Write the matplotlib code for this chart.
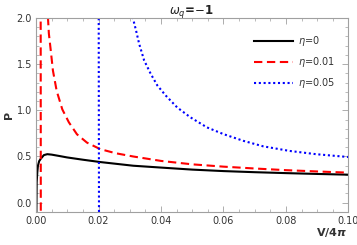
import matplotlib.pyplot as plt
from matplotlib.ticker import MultipleLocator

# values (V/4pi, P)
v_eta0 = [0.0001, 0.0002, 0.0004, 0.0006, 0.001, 0.0015, 0.0025, 0.0036, 0.005, 0.0075,
          0.0099, 0.015, 0.0205, 0.0311, 0.04, 0.05, 0.06, 0.07, 0.08, 0.09, 0.100]
p_eta0 = [-0.12, 0.22, 0.33, 0.40, 0.45, 0.475, 0.515, 0.525, 0.52, 0.505,
          0.49, 0.465, 0.44, 0.40, 0.38, 0.358, 0.342, 0.33, 0.32, 0.311, 0.303]

v_eta001_a = [0.00148, 0.00152]
p_eta001_a = [2.1, -0.2]
v_eta001_b = [0.0038, 0.0041, 0.0047, 0.0054, 0.0066, 0.0084, 0.0105, 0.0131, 0.0163,
              0.0205, 0.0255, 0.0311, 0.04, 0.05, 0.06, 0.07, 0.08, 0.09, 0.100]
p_eta001_b = [2.01, 1.83, 1.65, 1.43, 1.21, 1.01, 0.87, 0.74, 0.65,
              0.58, 0.535, 0.50, 0.452, 0.415, 0.39, 0.37, 0.352, 0.338, 0.325]

v_eta005_a = [0.02005, 0.02015]
p_eta005_a = [2.1, -0.2]
v_eta005_b = [0.0309, 0.0320, 0.0330, 0.0346, 0.0367, 0.0388, 0.0415, 0.0452, 0.0494,
              0.0547, 0.060, 0.0663, 0.0727, 0.0812, 0.0896, 0.100]
p_eta005_b = [2.01, 1.865, 1.72, 1.54, 1.395, 1.27, 1.16, 1.03, 0.924,
              0.815, 0.742, 0.67, 0.61, 0.56, 0.525, 0.494]

fig = plt.figure(figsize=(3.57, 2.45), dpi=100)
ax = fig.add_axes([0.101, 0.135, 0.875, 0.792])

lw = 1.5
ax.plot(v_eta0, p_eta0, color="black", lw=lw, label=r"$\eta$=0")
ax.plot(v_eta001_a, p_eta001_a, color="red", lw=lw, dashes=(4, 2.2))
ax.plot(v_eta001_b, p_eta001_b, color="red", lw=lw, dashes=(4, 2.2), label=r"$\eta$=0.01")
ax.plot(v_eta005_a, p_eta005_a, color="blue", lw=lw, dashes=(1, 1.3))
ax.plot(v_eta005_b, p_eta005_b, color="blue", lw=lw, dashes=(1, 1.3), label=r"$\eta$=0.05")

ax.set_xlim(0, 0.10)
ax.set_ylim(-0.1, 2.0)

ax.xaxis.set_major_locator(MultipleLocator(0.02))
ax.xaxis.set_minor_locator(MultipleLocator(0.005))
ax.yaxis.set_major_locator(MultipleLocator(0.5))
ax.yaxis.set_minor_locator(MultipleLocator(0.1))
ax.xaxis.set_major_formatter(plt.FuncFormatter(lambda x, p: "%.2f" % x))
ax.yaxis.set_major_formatter(plt.FuncFormatter(lambda y, p: "%.1f" % y))

for s in ax.spines.values():
    s.set_color("#a0a0a0")
    s.set_linewidth(0.8)
ax.tick_params(which="both", direction="in", top=True, right=True, color="#a0a0a0",
               labelsize=7, labelcolor="#333333", pad=3)
ax.tick_params(which="major", length=4, width=0.6)
ax.tick_params(which="minor", length=2, width=0.5)

fig.text(0.535, 0.955, r"$\boldsymbol{\omega_q}$=$-$1", fontsize=8.5, fontweight="bold",
         ha="center", va="center", color="#222222")
fig.text(0.025, 0.53, "P", fontsize=8, fontweight="bold", rotation=90,
         ha="center", va="center", color="#333333")
fig.text(0.93, 0.052, r"V/4$\boldsymbol{\pi}$", fontsize=8, fontweight="bold",
         ha="center", va="center", color="#333333")

ax.legend(loc="upper right", bbox_to_anchor=(0.985, 0.96), frameon=False, fontsize=7,
          handlelength=4.0, handletextpad=0.5, labelspacing=0.7, labelcolor="#333333")

fig.savefig("out.png", dpi=100)
